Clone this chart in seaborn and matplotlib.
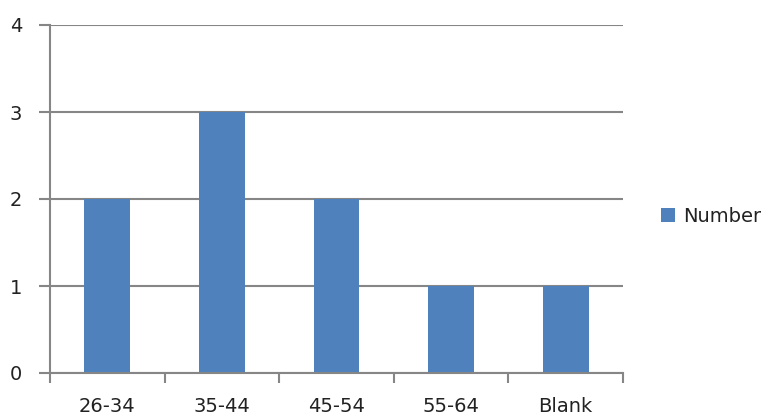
import matplotlib
matplotlib.use("Agg")
import matplotlib.pyplot as plt
import seaborn as sns
import pandas as pd
import numpy as np

categories = ["26-34", "35-44", "45-54", "55-64", "Blank"]
counts = [2, 3, 2, 1, 1]
series_name = "Number"

df = pd.DataFrame({"age": categories, "value": counts, "series": series_name})

sns.set_style("white")
plt.rcParams['font.family'] = ['DejaVu Sans']
grey = "#868686"

fig = plt.figure(figsize=(7.77, 4.17), dpi=100)
ax = fig.add_axes([50 / 777, 44 / 417, 573 / 777, 348 / 417])

sns.barplot(data=df, x="age", y="value", hue="series", palette=["#4F81BD"],
            width=0.4, saturation=1, ax=ax, zorder=3,
            edgecolor="none", linewidth=0)

ax.set_ylim(0, 4)
ax.set_xlim(-0.5, len(categories) - 0.5)
ax.set_yticks(range(0, 5))
ax.yaxis.grid(True, color=grey, linewidth=1.5, zorder=0)
ax.set_axisbelow(True)
for s in ["top", "right"]:
    ax.spines[s].set_visible(False)
for s in ["left", "bottom"]:
    ax.spines[s].set_color(grey)
    ax.spines[s].set_linewidth(1.5)
ax.spines["bottom"].set_zorder(4)

ax.tick_params(axis="y", direction="out", length=8, width=1.5, color=grey,
               labelsize=14, pad=12, left=True, labelcolor="#222222")
ax.tick_params(axis="x", which="major", length=0, labelsize=14, pad=17,
               labelcolor="#222222")
ax.set_xticks(np.arange(-0.5, len(categories)), minor=True)
ax.tick_params(axis="x", which="minor", direction="out", length=7, width=1.5,
               color=grey, bottom=True)
ax.set_xlabel("")
ax.set_ylabel("")

ax.legend(loc="center left", bbox_to_anchor=(1.035, 0.45), frameon=False,
          fontsize=14, handlelength=0.75, handleheight=0.75, handletextpad=0.4,
          labelcolor="#222222")

fig.savefig("out.png", dpi=100)
